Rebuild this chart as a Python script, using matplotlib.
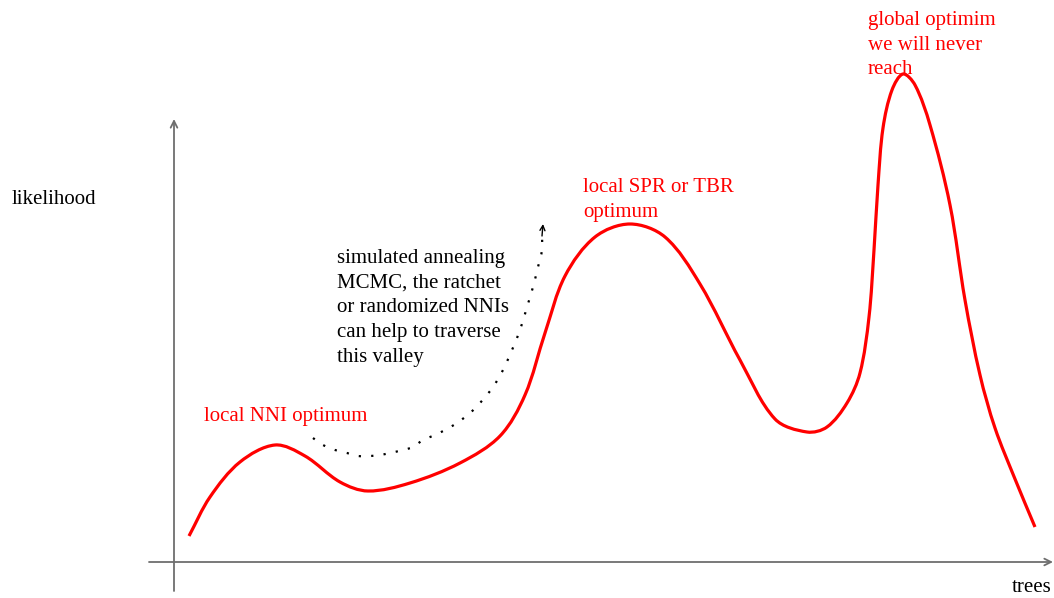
import numpy as np
import matplotlib
matplotlib.use('Agg')
import matplotlib.pyplot as plt
from matplotlib.path import Path
from matplotlib.patches import PathPatch

# ─── Data (picture coordinates, y grows downwards) ─────────────────────
curve_x = [189, 210, 240, 275, 305, 340, 368, 410, 460, 500, 525, 545, 565,
           595, 630, 665, 700, 740, 775, 807, 827, 847, 860, 869, 874, 878,
           883, 892, 903, 915, 930, 950, 965, 980, 995, 1015, 1035]
curve_y = [536, 497, 462, 445, 456, 482, 491, 483, 463, 436, 395, 333, 276,
           237, 224, 237, 284, 360, 419, 432, 427, 403, 373, 317, 250, 185,
           128, 90, 74, 85, 125, 205, 300, 375, 428, 479, 527]

jump_x = [313, 323, 335, 347, 358, 370, 380, 390, 403, 413, 423, 435, 445,
          457, 470, 480, 493, 503, 512, 520, 527, 533, 538, 542, 542]
jump_y = [438, 445, 450, 453, 456, 456, 455, 453, 450, 447, 440, 435, 430,
          423, 413, 403, 387, 370, 350, 330, 307, 287, 267, 250, 235]

labels = {
    "nni": "local NNI optimum",
    "spr": "local SPR or TBR\noptimum",
    "global": "global optimim\nwe will never\nreach",
    "jump": "simulated annealing\nMCMC, the ratchet\nor randomized NNIs\ncan help to traverse\nthis valley",
}


def smooth_path(xs, ys):
    """Bezier path through the points (chord-length Hermite handles)."""
    p = np.column_stack([xs, ys]).astype(float)
    d = np.hypot(*np.diff(p, axis=0).T)
    n = len(p)
    tang = np.zeros_like(p)
    for i in range(n):
        if i == 0:
            tang[i] = (p[1] - p[0]) / d[0]
        elif i == n - 1:
            tang[i] = (p[-1] - p[-2]) / d[-1]
        else:
            tang[i] = (p[i + 1] - p[i - 1]) / (d[i - 1] + d[i])
    verts = [p[0]]
    codes = [Path.MOVETO]
    for i in range(n - 1):
        c1 = p[i] + tang[i] * d[i] / 3.0
        c2 = p[i + 1] - tang[i + 1] * d[i] / 3.0
        verts += [c1, c2, p[i + 1]]
        codes += [Path.CURVE4] * 3
    return Path(verts, codes)


# ─── Figure ────────────────────────────────────────────────────────────
fig = plt.figure(figsize=(10.54, 5.98), dpi=100)
ax = fig.add_axes([0, 0, 1, 1])
ax.set_xlim(0, 1054)
ax.set_ylim(598, 0)
ax.axis('off')

plt.rcParams['font.family'] = ['Liberation Serif', 'DejaVu Serif']
FS = 15
LS = 1.42
AXC = '#6e6e6e'

# axes with arrow heads
ax.annotate('', xy=(174, 119), xytext=(174, 591),
            arrowprops=dict(arrowstyle='->', color=AXC, lw=1.3,
                            shrinkA=0, shrinkB=0, mutation_scale=12))
ax.annotate('', xy=(1053, 562), xytext=(149, 562),
            arrowprops=dict(arrowstyle='->', color=AXC, lw=1.3,
                            shrinkA=0, shrinkB=0, mutation_scale=12))

# likelihood landscape
ax.add_patch(PathPatch(smooth_path(curve_x, curve_y), facecolor='none',
                       edgecolor='#ff0000', lw=2.3, capstyle='butt',
                       joinstyle='round'))

# dotted "jump" path with arrow tip
ax.add_patch(PathPatch(smooth_path(jump_x, jump_y), facecolor='none',
                       edgecolor='black', lw=1.6, linestyle=(0, (1, 4.6))))
ax.annotate('', xy=(543, 224), xytext=(542, 236),
            arrowprops=dict(arrowstyle='->', color='black', lw=1.0,
                            shrinkA=0, shrinkB=0, mutation_scale=9))

# texts
ax.text(12, 200, "likelihood", fontsize=FS, va='center', ha='left')
ax.text(1052, 588, "trees", fontsize=FS, va='center', ha='right')
ax.text(204, 417, labels["nni"], fontsize=FS, color='#ff0000',
        va='center', ha='left')
ax.text(583, 200, labels["spr"], fontsize=FS, color='#ff0000',
        va='center', ha='left', linespacing=LS)
ax.text(868, 45, labels["global"], fontsize=FS, color='#ff0000',
        va='center', ha='left', linespacing=LS)
ax.text(337, 308, labels["jump"], fontsize=FS, color='black',
        va='center', ha='left', linespacing=LS)

plt.savefig("out.png", dpi=100)
